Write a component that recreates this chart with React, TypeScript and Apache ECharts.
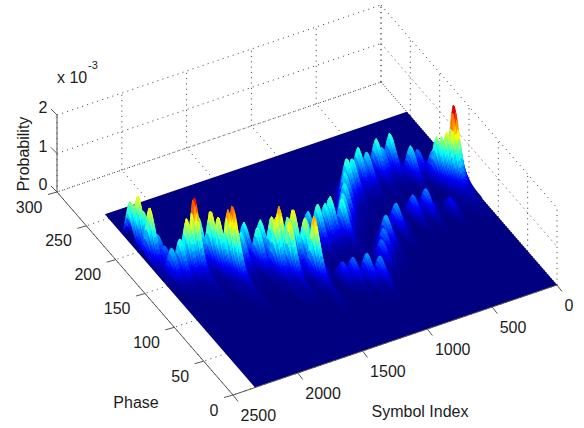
import React, { useEffect, useRef } from "react";
import * as echarts from "echarts";

const symbolTicks = [0, 500, 1000, 1500, 2000, 2500];
const phaseTicks = [0, 50, 100, 150, 200, 250, 300];
const probTicks = [0, 1, 2];

// Ridge crests: symbol index, phase, probability (x 10^-3)
const crestSymbol = [2312, 2300, 2284, 2262, 2275, 2320, 2230, 2226, 2235, 2176, 2110, 2054, 1988, 1935, 1913, 1868, 1838, 1850, 1760, 1700, 1663, 1610, 1573, 1539, 1583, 1490, 1447, 1435, 1515, 1386, 1330, 1242, 1377, 1186, 1120, 1073, 1002, 950, 887, 830, 775, 725, 642, 585, 489, 449, 379, 292, 219, 161, 150, 130, 103, 75, 50];
const crestPhase = [217, 214, 210, 205, 192, 212, 188, 177, 163, 162, 165, 165, 173, 163, 155, 148, 147, 140, 150, 158, 143, 150, 139, 134, 130, 130, 139, 133, 121, 124, 135, 150, 110, 146, 148, 150, 145, 155, 166, 178, 187, 189, 197, 195, 200, 199, 201, 185, 189, 176, 172, 168, 165, 160, 165];
const crestProb = [1.0, 0.95, 1.25, 0.9, 1.25, 0.45, 0.55, 0.45, 0.65, 0.85, 1.25, 1.75, 1.05, 1.3, 1.25, 1.5, 1.6, 1.25, 0.75, 0.8, 0.9, 0.9, 1.15, 1.45, 1.3, 1.05, 1.0, 1.3, 1.3, 1.15, 0.9, 0.7, 1.45, 0.9, 0.8, 0.9, 0.85, 0.75, 0.75, 0.75, 0.9, 0.8, 0.85, 0.7, 0.85, 0.6, 0.85, 0.7, 0.45, 0.6, 1.0, 1.05, 1.2, 1.3, 1.85];

const lowerSymbol = [1227, 1162, 1077, 1004, 900, 840, 777, 645, 481, 383, 235];
const lowerPhase = [94, 91, 86, 80, 100, 110, 120, 132, 139, 139, 130];
const lowerProb = [0.35, 0.45, 0.55, 0.5, 0.45, 0.5, 0.6, 0.55, 0.45, 0.5, 0.25];

const SYMBOL_MAX = 2500, PHASE_MAX = 300, PROB_MAX = 2, COLOR_MAX = 1.85;
const SURF_SYMBOL = 2330, SURF_PHASE = 256, DS = 10, DP = 2;

// orthographic view of the axes box
const project = (s: number, p: number, z: number): [number, number] => [
  557 - (324 / SYMBOL_MAX) * s - (176 / PHASE_MAX) * p,
  285 + (110 / SYMBOL_MAX) * s - (203 / PHASE_MAX) * p - 38.5 * z,
];

const allS = [...crestSymbol, ...lowerSymbol];
const allP = [...crestPhase, ...lowerPhase];
const allH = [...crestProb, ...lowerProb];

const heightAt = (s: number, p: number) => {
  let best = 0;
  for (let i = 0; i < allS.length; i++) {
    const u = (s - allS[i]) / 25;
    if (Math.abs(u) > 7) continue;
    const d = allP[i] - p;
    if (d < -18 || d > 80) continue;
    const g = d < 0 ? Math.exp(-((d / 6) ** 2)) : 0.72 * Math.exp(-((d / 12) ** 2)) + 0.28 * Math.exp(-d / 20);
    const across = 0.6 * Math.exp(-u * u) + 0.4 * Math.exp(-((u / 2.4) ** 2));
    const v = allH[i] * across * g;
    if (v > best) best = v;
  }
  return best;
};

const jet = (z: number) => {
  const t = Math.max(0, Math.min(1, z / COLOR_MAX));
  const c = (v: number) => Math.round(255 * Math.max(0, Math.min(1, v)));
  const r = 1.5 - Math.abs(4 * t - 3);
  const g = 1.5 - Math.abs(4 * t - 2);
  const b = 1.5 - Math.abs(4 * t - 1);
  return `rgb(${c(r)},${c(g)},${c(b)})`;
};

const buildCells = () => {
  const cells: number[][] = [];
  const ns = Math.round(SURF_SYMBOL / DS), np = Math.round(SURF_PHASE / DP);
  const h: number[][] = [];
  for (let i = 0; i <= ns; i++) {
    const row: number[] = [];
    for (let j = 0; j <= np; j++) row.push(heightAt(i * DS, j * DP));
    h.push(row);
  }
  for (let i = 0; i < ns; i++) {
    for (let j = 0; j < np; j++) {
      const a = h[i][j], b = h[i + 1][j], c = h[i + 1][j + 1], d = h[i][j + 1];
      if ((a + b + c + d) / 4 < 0.02) continue;
      cells.push([i * DS, j * DP, a, b, c, d]);
    }
  }
  cells.sort((m, n) => project(m[0], m[1], 0)[1] - project(n[0], n[1], 0)[1]);
  return cells;
};

const FONT = "Liberation Sans";
const TEXT = "#1c1c1c";
const GRID = { stroke: "#4a4a4a", lineWidth: 1, lineDash: [1.1, 4.2] };
const AXIS = { stroke: "#555555", lineWidth: 1 };

type Seg = { a: [number, number, number]; b: [number, number, number]; dotted: boolean; dx?: number; dy?: number };

const buildSegments = () => {
  const seg: Seg[] = [];
  for (const s of symbolTicks) {
    seg.push({ a: [s, 0, 0], b: [s, PHASE_MAX, 0], dotted: true });
    seg.push({ a: [s, PHASE_MAX, 0], b: [s, PHASE_MAX, PROB_MAX], dotted: true });
  }
  for (const p of phaseTicks) {
    seg.push({ a: [0, p, 0], b: [SYMBOL_MAX, p, 0], dotted: true });
    seg.push({ a: [0, p, 0], b: [0, p, PROB_MAX], dotted: true });
  }
  for (const z of probTicks) {
    seg.push({ a: [SYMBOL_MAX, PHASE_MAX, z], b: [0, PHASE_MAX, z], dotted: true });
    seg.push({ a: [0, PHASE_MAX, z], b: [0, 0, z], dotted: true });
  }
  return seg;
};

const buildAxes = () => {
  const seg: Seg[] = [
    { a: [SYMBOL_MAX, PHASE_MAX, 0], b: [SYMBOL_MAX, PHASE_MAX, PROB_MAX], dotted: false },
    { a: [SYMBOL_MAX, PHASE_MAX, 0], b: [SYMBOL_MAX, 0, 0], dotted: false },
    { a: [SYMBOL_MAX, 0, 0], b: [0, 0, 0], dotted: false },
  ];
  for (const s of symbolTicks) seg.push({ a: [s, 0, 0], b: [s, 0, 0], dotted: false, dx: 5, dy: 6.5 });
  for (const p of phaseTicks) seg.push({ a: [SYMBOL_MAX, p, 0], b: [SYMBOL_MAX, p, 0], dotted: false, dx: -9, dy: 2.5 });
  for (const z of probTicks) seg.push({ a: [SYMBOL_MAX, PHASE_MAX, z], b: [SYMBOL_MAX, PHASE_MAX, z], dotted: false, dx: -6, dy: -6 });
  return seg;
};

type Lab = { text: string; x: number; y: number; align: string; rot?: number; size?: number };

const buildLabels = () => {
  const out: Lab[] = [];
  for (const s of symbolTicks) {
    const [x, y] = project(s, 0, 0);
    out.push({ text: String(s), x: x + 7.5, y: y + 20.5, align: "left" });
  }
  for (const p of phaseTicks) {
    const [x, y] = project(SYMBOL_MAX, p, 0);
    out.push({ text: String(p), x: x - 14.5, y: y + 15, align: "right" });
  }
  for (const z of probTicks) {
    const [x, y] = project(SYMBOL_MAX, PHASE_MAX, z);
    out.push({ text: String(z), x: x - 9.5, y: y - 7.5, align: "right" });
  }
  out.push({ text: "Symbol Index", x: 420, y: 411.5, align: "center" });
  out.push({ text: "Phase", x: 136, y: 402, align: "center" });
  out.push({ text: "Probability", x: 23, y: 154, align: "center", rot: Math.PI / 2 });
  out.push({ text: "x 10", x: 57, y: 77, align: "left" });
  out.push({ text: "-3", x: 88, y: 65, align: "left", size: 11 });
  return out;
};

const segItem = (g: Seg, api: any) => {
  const p1 = api.coord(project(g.a[0], g.a[1], g.a[2]));
  const p2 = api.coord(project(g.b[0], g.b[1], g.b[2]));
  return {
    type: "line",
    silent: true,
    shape: { x1: p1[0], y1: p1[1], x2: p2[0] + (g.dx ?? 0), y2: p2[1] + (g.dy ?? 0) },
    style: g.dotted ? { ...GRID, fill: null } : { ...AXIS, fill: null },
  };
};

export default function App() {
  const ref = useRef<HTMLDivElement>(null);
  useEffect(() => {
    if (!ref.current) return;
    const chart = echarts.init(ref.current, null, { renderer: "svg", width: 584, height: 428 });
    const cells = buildCells();
    const segments = buildSegments();
    const axes = buildAxes();
    const labels = buildLabels();
    const base = { type: "custom", coordinateSystem: "cartesian2d", clip: false, silent: true, progressive: 0, animation: false };
    chart.setOption({
      animation: false,
      backgroundColor: "#ffffff",
      grid: { left: 0, top: 0, width: 584, height: 428 },
      xAxis: { type: "value", min: 0, max: 584, show: false },
      yAxis: { type: "value", min: 0, max: 428, inverse: true, show: false },
      series: [
        {
          ...base,
          z: 1,
          data: segments.map((_, i) => [i]),
          renderItem: (params: any, api: any) => segItem(segments[params.dataIndex], api),
        },
        {
          ...base,
          z: 2,
          data: [[0]],
          renderItem: (_: any, api: any) => ({
            type: "polygon",
            silent: true,
            shape: {
              points: [
                [0, 0],
                [SURF_SYMBOL, 0],
                [SURF_SYMBOL, SURF_PHASE],
                [0, SURF_PHASE],
              ].map(([s, p]) => api.coord(project(s, p, 0))),
            },
            style: { fill: jet(0) },
          }),
        },
        {
          ...base,
          z: 3,
          data: cells.map((_, i) => [i]),
          renderItem: (params: any, api: any) => {
            const [s, p, a, b, c, d] = cells[params.dataIndex];
            const col = jet((a + b + c + d) / 4);
            return {
              type: "polygon",
              silent: true,
              shape: {
                points: [
                  api.coord(project(s, p, a)),
                  api.coord(project(s + DS, p, b)),
                  api.coord(project(s + DS, p + DP, c)),
                  api.coord(project(s, p + DP, d)),
                ],
              },
              style: { fill: col, stroke: col, lineWidth: 0.5 },
            };
          },
        },
        {
          ...base,
          z: 4,
          data: axes.map((_, i) => [i]),
          renderItem: (params: any, api: any) => segItem(axes[params.dataIndex], api),
        },
        {
          ...base,
          z: 5,
          data: labels.map((_, i) => [i]),
          renderItem: (params: any, api: any) => {
            const l = labels[params.dataIndex];
            const pt = api.coord([l.x, l.y]);
            return {
              type: "text",
              silent: true,
              x: pt[0],
              y: pt[1],
              rotation: l.rot ?? 0,
              style: {
                text: l.text,
                fill: TEXT,
                font: `${l.size ?? 16}px "${FONT}"`,
                align: l.align,
                verticalAlign: "middle",
              },
            };
          },
        },
      ],
    });
    return () => chart.dispose();
  }, []);
  return <div ref={ref} style={{ position: "absolute", left: 0, top: 0, width: 584, height: 428 }} />;
}
